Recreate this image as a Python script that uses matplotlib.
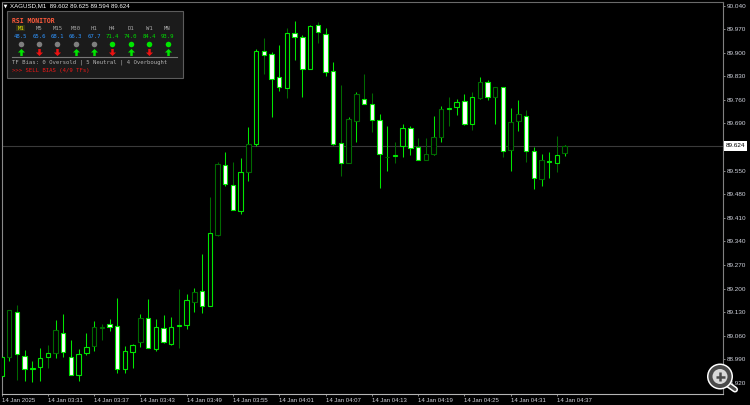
import matplotlib
matplotlib.use("Agg")
import matplotlib.pyplot as plt
from matplotlib.patches import Rectangle, Circle
from matplotlib.path import Path

# ---- price data (M1 candles) ----
opens = [88.941,88.998,89.130,89.000,88.963,88.968,88.998,89.008,89.068,88.997,88.945,89.010,89.031,89.084,89.096,89.089,
         88.961,89.013,89.041,89.112,89.022,89.083,89.035,89.090,89.092,89.161,89.192,89.150,89.359,89.566,89.508,89.431,
         89.547,89.629,89.905,89.896,89.827,89.796,89.958,89.947,89.853,89.981,89.955,89.845,89.631,89.574,89.697,89.763,
         89.748,89.700,89.590,89.595,89.624,89.677,89.619,89.581,89.599,89.651,89.734,89.740,89.756,89.689,89.767,89.813,
         89.770,89.797,89.612,89.697,89.712,89.609,89.526,89.579,89.574,89.602]
closes = [88.998,89.137,89.005,88.962,88.966,88.994,89.008,89.077,89.013,88.943,89.006,89.028,89.086,89.086,89.087,88.961,
          89.016,89.033,89.113,89.023,89.086,89.041,89.086,89.093,89.166,89.191,89.150,89.364,89.570,89.510,89.433,89.547,
          89.629,89.906,89.893,89.823,89.798,89.958,89.947,89.853,89.978,89.962,89.843,89.629,89.574,89.703,89.777,89.748,
          89.700,89.600,89.592,89.598,89.676,89.617,89.581,89.599,89.651,89.732,89.737,89.755,89.689,89.768,89.812,89.770,
          89.797,89.609,89.694,89.717,89.609,89.527,89.581,89.576,89.596,89.624]
highs = [89.028,89.137,89.152,89.018,88.986,89.023,89.033,89.107,89.124,89.048,89.020,89.068,89.104,89.095,89.110,89.172,
         89.031,89.036,89.125,89.169,89.109,89.122,89.116,89.199,89.184,89.203,89.303,89.472,89.576,89.605,89.577,89.588,
         89.680,89.910,89.945,89.901,89.923,89.972,89.994,89.953,89.982,89.991,89.973,89.872,89.804,89.710,89.783,89.837,
         89.781,89.717,89.683,89.636,89.689,89.683,89.646,89.646,89.712,89.742,89.768,89.762,89.778,89.783,89.829,89.819,
         89.797,89.797,89.735,89.760,89.730,89.619,89.600,89.605,89.653,89.626]
lows = [88.924,88.986,88.929,88.926,88.924,88.926,88.966,88.995,88.998,88.943,88.926,89.003,89.016,89.048,89.073,88.951,
        88.951,88.966,89.026,89.023,89.016,89.040,89.034,89.025,89.081,89.132,89.129,89.150,89.356,89.506,89.433,89.421,
        89.520,89.624,89.837,89.710,89.786,89.767,89.878,89.769,89.852,89.930,89.831,89.626,89.534,89.574,89.635,89.748,
        89.665,89.498,89.550,89.573,89.591,89.597,89.581,89.581,89.597,89.635,89.684,89.716,89.685,89.671,89.764,89.760,
        89.689,89.591,89.549,89.668,89.577,89.495,89.505,89.527,89.547,89.594]
last_price = 89.624
header = "XAGUSD,M1  89.602 89.625 89.594 89.624"

price_ticks = [90.040,89.970,89.900,89.830,89.760,89.690,89.620,89.550,89.480,89.410,89.340,89.270,89.200,89.130,89.060,88.990,88.920]
hidden_price_tick = 89.620   # covered by the current-price box in the reference
time_tick_idx = [0,6,12,18,24,30,36,42,48,54,60,66,72]
time_labels = ["14 Jan 2025","14 Jan 03:31","14 Jan 03:37","14 Jan 03:43","14 Jan 03:49","14 Jan 03:55","14 Jan 04:01",
               "14 Jan 04:07","14 Jan 04:13","14 Jan 04:19","14 Jan 04:25","14 Jan 04:31","14 Jan 04:37"]

# ---- RSI monitor panel data ----
timeframes = ["M1","M5","M15","M30","H1","H4","D1","W1","MN"]
rsi_values = [48.5,65.6,68.1,66.3,67.7,71.4,74.0,84.4,93.9]
overbought = [False,False,False,False,False,True,True,True,True]
direction_up = [True,False,False,True,True,False,True,False,True]

# ---- style ----
GREEN = "#00e600"
DIM = "#006a00"
dim_bodies = {1,7,12,13,18,25,28,32,45,46,50,55,56,57,62,64,66,67,70,73}
dim_wicks = {2,6,13,23,27,28,30,34,37,41,44,47,48,54,55,58,61,65,68,72,51}
W, H = 750, 405
SANS = "Liberation Sans"
MONO = "DejaVu Sans Mono"

fig = plt.figure(figsize=(W/100, H/100), dpi=100, facecolor="black")
L, R, T, B = 1.5, 722.5, 1.5, 393.5
ax = fig.add_axes([L/W, 1-B/H, (R-L)/W, (B-T)/H], facecolor="black")
ax.set_xlim((L-1)/7.72, (R-1)/7.72)
ax.set_ylim(88.889, 90.0519)

ax.axhline(last_price, color="#3a3a3a", lw=0.8, zorder=1)
for i, (o, h, l, c) in enumerate(zip(opens, highs, lows, closes)):
    bear = c < o
    wc = DIM if i in dim_wicks else GREEN
    bc = DIM if i in dim_bodies else GREEN
    ax.vlines(i, l, h, color=wc, lw=0.75, zorder=2)
    ax.bar(i, abs(c-o), bottom=min(o, c), width=4.4/7.72,
           facecolor="white" if bear else "black", edgecolor=bc, linewidth=0.8, zorder=3)

for s, col in (("top", "#6a6a6a"), ("left", "#8a8a8a"), ("right", "#808080"), ("bottom", "#b4b4b4")):
    ax.spines[s].set_color(col)
    ax.spines[s].set_linewidth(0.8)

ax.yaxis.tick_right()
ax.set_yticks(price_ticks)
ax.set_yticklabels(["" if p == hidden_price_tick else f"{p:.3f}" for p in price_ticks],
                   fontsize=4.6, family=SANS, color="#cfd2dc")
ax.tick_params(axis="y", length=1.5, width=0.6, color="#a0a0a0", pad=1.8)
ax.set_xticks(time_tick_idx)
ax.set_xticklabels(time_labels, fontsize=4.3, family=SANS, color="#d4d4dc", ha="left")
ax.tick_params(axis="x", length=1.5, width=0.6, color="#a0a0a0", pad=1.6)

# overlay in pixel coordinates
ov = fig.add_axes([0, 0, 1, 1], facecolor="none")
ov.set_xlim(0, W); ov.set_ylim(H, 0); ov.axis("off")

# header
ov.scatter([5], [5.5], marker="v", s=7, color="white", linewidths=0)
ov.text(10, 5.7, header, fontsize=4.4, family=SANS, color="white", va="center", ha="left")

# current price label
ov.add_patch(Rectangle((723.5, 141), 23.5, 9.5, facecolor="white", edgecolor="none", zorder=5))
ov.text(725.5, 145.9, f"{last_price:.3f}", fontsize=4.6, family=SANS, color="black", va="center", ha="left", zorder=6)

# RSI panel
ov.add_patch(Rectangle((6.7, 11), 176, 67.3, facecolor="#1b1b1b", edgecolor="#5c5c5c", linewidth=0.8))
ov.text(12, 21, "RSI MONITOR", fontsize=4.7, family=MONO, weight="bold", color="#ff5a3c", va="center")
col_x = [20.7 + 18.35*k for k in range(len(timeframes))]
ov.add_patch(Rectangle((col_x[0]-4.5, 24.8), 9, 6.4, facecolor="#333318", edgecolor="none"))
arrow_up = Path([(-.35,-1),(.35,-1),(.35,0),(1,0),(0,1),(-1,0),(-.35,0),(-.35,-1)], closed=True)
arrow_dn = Path([(-.35,1),(.35,1),(.35,0),(1,0),(0,-1),(-1,0),(-.35,0),(-.35,1)], closed=True)
for x, tf, v, ob, up in zip(col_x, timeframes, rsi_values, overbought, direction_up):
    ov.text(x, 28, tf, fontsize=4.05, family=MONO, color="#e6e600" if tf == "M1" else "#a8a8a8", va="center", ha="center")
    ov.text(x, 36, f"{v:.1f}", fontsize=4.05, family=MONO, color="#00e000" if ob else "#2f95ff", va="center", ha="center")
    ov.scatter([x], [44.3], s=16, color="#00e600" if ob else "#7f7f7f", linewidths=0)
    ov.scatter([x], [51.7], marker=arrow_up if up else arrow_dn, s=26,
               color="#00e600" if up else "#ee1111", linewidths=0)
ov.plot([12, 177], [57.3, 57.3], color="#777777", lw=0.8)
ov.text(12, 62.7, "TF Bias: 0 Oversold | 5 Neutral | 4 Overbought", fontsize=4.05, family=MONO, color="#b0b0b0", va="center")
ov.text(12, 70.3, ">>> SELL BIAS (4/9 TFs)", fontsize=4.05, family=MONO, color="#f01818", va="center")

# magnifier icon
cx, cy = 720.0, 376.5
ov.plot([cx+8, cx+15], [cy+8, cy+13], color="white", lw=4.4, solid_capstyle="round", zorder=7)
ov.plot([cx+8, cx+15], [cy+8, cy+13], color="#4a4a4a", lw=2.2, solid_capstyle="round", zorder=8)
ov.add_patch(Circle((cx, cy), 13, facecolor="white", edgecolor="none", zorder=9))
ov.add_patch(Circle((cx, cy), 11.5, facecolor="#4a4a4a", edgecolor="none", zorder=10))
ov.add_patch(Circle((cx, cy), 7.5, facecolor="#d8d8d8", edgecolor="none", zorder=11))
ov.plot([cx-4.5, cx+4.5], [cy, cy], color="#4a4a4a", lw=1.8, zorder=12, solid_capstyle="butt")
ov.plot([cx, cx], [cy-4.5, cy+4.5], color="#4a4a4a", lw=1.8, zorder=12, solid_capstyle="butt")

fig.savefig("out.png", dpi=100, facecolor="black")
